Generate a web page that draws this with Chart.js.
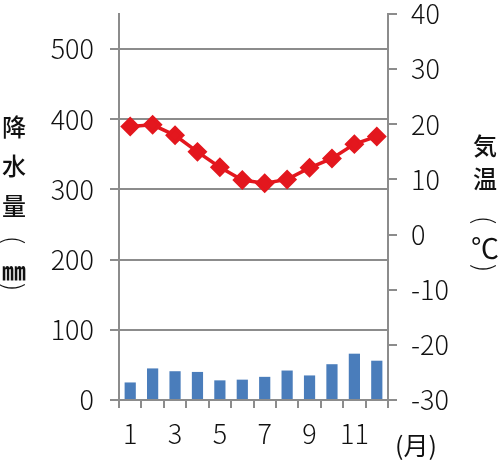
<!DOCTYPE html>
<html lang="ja">
<head>
<meta charset="UTF-8">
<script src="https://cdn.jsdelivr.net/npm/chart.js"></script>
<style>
  body { margin: 0; background: #fff; }
</style>
</head>
<body>
<canvas id="climate" width="500" height="466"></canvas>
<script>
// 月別データ
var months = ['1', '2', '3', '4', '5', '6', '7', '8', '9', '10', '11', '12'];
var rainfall = [25, 45, 41, 40, 28, 29, 33, 42, 35, 51, 66, 56];
var temperature = [19.6, 19.9, 18.0, 15.0, 12.2, 9.9, 9.3, 10.0, 12.1, 13.8, 16.4, 17.8];
var leftTitle = ['降', '水', '量', '(', '㎜', ')'];
var rightTitle = ['気', '温', '(', '℃', ')'];

var FONT = '"Noto Sans CJK JP", "Noto Sans", sans-serif';
var GRAY = '#8c8c8c';

function noPad(scale) {
    scale.paddingTop = 0;
    scale.paddingBottom = 0;
    scale.paddingLeft = 0;
    scale.paddingRight = 0;
}

// 縦書き：括弧は90度回転して描く
function drawVertical(ctx, chars, x, ys) {
    chars.forEach(function(c, i) {
        ctx.save();
        ctx.translate(x, ys[i]);
        if (c === '(' || c === ')') {
            ctx.rotate(Math.PI / 2);
            ctx.font = '300 26px ' + FONT;
        } else if (c === '㎜') {
            ctx.font = 'bold 24px ' + FONT;
        } else if (c === '℃') {
            ctx.font = '400 28px ' + FONT;
        } else {
            ctx.font = '500 24px ' + FONT;
        }
        ctx.fillText(c, 0, 0);
        ctx.restore();
    });
}

var axisTitles = {
    id: 'axisTitles',
    afterDraw: function(chart) {
        var ctx = chart.ctx;
        ctx.save();
        ctx.fillStyle = '#111';
        ctx.textAlign = 'center';
        ctx.textBaseline = 'middle';
        drawVertical(ctx, leftTitle, 14, [127, 166, 206, 240, 271, 287]);
        drawVertical(ctx, rightTitle, 485, [146, 179, 220, 248, 268]);
        ctx.font = '400 25px ' + FONT;
        ctx.fillText('(月)', 416, 445);
        ctx.restore();
    }
};

new Chart(document.getElementById('climate').getContext('2d'), {
    data: {
        labels: months,
        datasets: [{
            type: 'line',
            label: '気温',
            data: temperature,
            yAxisID: 'y1',
            borderColor: '#e3171e',
            backgroundColor: '#e3171e',
            borderWidth: 3.5,
            pointStyle: 'rectRot',
            pointRadius: 7.5,
            tension: 0,
            order: 0
        }, {
            type: 'bar',
            label: '降水量',
            data: rainfall,
            yAxisID: 'y',
            backgroundColor: '#4a7dbb',
            barPercentage: 0.5,
            categoryPercentage: 1,
            order: 1
        }]
    },
    options: {
        responsive: false,
        animation: false,
        layout: { padding: { top: 14, left: 0, right: 0, bottom: 0 } },
        plugins: { legend: { display: false }, tooltip: { enabled: false } },
        scales: {
            x: {
                offset: true,
                grid: { offset: true, drawOnChartArea: false, color: GRAY, lineWidth: 2, tickLength: 8 },
                border: { color: GRAY, width: 2 },
                ticks: {
                    autoSkip: false,
                    maxRotation: 0,
                    padding: 10,
                    color: '#111',
                    font: { family: FONT, size: 27, weight: 300 },
                    callback: function(v, i) { return i % 2 === 0 ? months[i] : ''; }
                },
                afterFit: function(scale) { scale.height = 66; noPad(scale); }
            },
            y: {
                position: 'left',
                min: 0,
                max: 550,
                grid: { color: GRAY, lineWidth: 2, tickLength: 9 },
                border: { color: GRAY, width: 2 },
                ticks: {
                    stepSize: 100,
                    includeBounds: false,
                    padding: 16,
                    color: '#111',
                    font: { family: FONT, size: 27, weight: 300 }
                },
                afterFit: function(scale) { scale.width = 119; noPad(scale); }
            },
            y1: {
                position: 'right',
                min: -30,
                max: 40,
                grid: { drawOnChartArea: false, color: GRAY, lineWidth: 2, tickLength: 9 },
                border: { color: GRAY, width: 2 },
                ticks: {
                    stepSize: 10,
                    padding: 14,
                    color: '#111',
                    font: { family: FONT, size: 27, weight: 300 }
                },
                afterFit: function(scale) { scale.width = 112; noPad(scale); }
            }
        }
    },
    plugins: [axisTitles]
});
</script>
</body>
</html>
